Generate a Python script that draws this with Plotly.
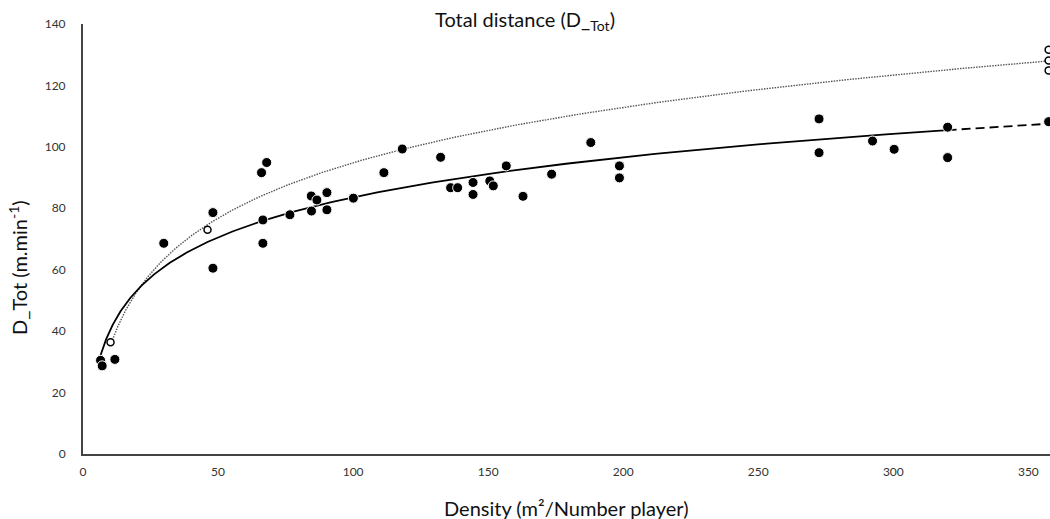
import numpy as np
import plotly.graph_objects as go

# ---- data ----
filled_x = [6.5, 7.1, 11.8, 29.9, 48.1, 48.1, 66.1, 68.0, 66.6, 66.6, 76.6,
            84.5, 86.6, 90.3, 84.6, 90.3, 100.1, 111.4, 118.2, 132.4, 136.1,
            138.7, 144.4, 144.4, 150.6, 151.9, 156.7, 162.9, 173.5, 188.0,
            198.6, 198.6, 272.5, 272.5, 292.3, 300.3, 320.1, 320.1]
filled_y = [30.5, 28.7, 30.8, 68.6, 78.6, 60.5, 91.6, 94.9, 76.2, 68.6, 77.9,
            84.0, 82.7, 85.1, 79.1, 79.5, 83.3, 91.6, 99.3, 96.6, 86.7,
            86.7, 88.4, 84.5, 88.9, 87.3, 93.8, 83.9, 91.1, 101.4,
            93.8, 89.9, 109.1, 98.1, 101.9, 99.2, 106.4, 96.5]

edge_filled_x = [357.5]
edge_filled_y = [108.2]

open_x = [10.2, 46.1, 357.5, 357.5, 357.5]
open_y = [36.4, 73.0, 131.6, 128.1, 124.9]

x_ticks = [0, 50, 100, 150, 200, 250, 300, 350]
y_ticks = [0, 20, 40, 60, 80, 100, 120, 140]

FONT = "Lato, 'Open Sans', sans-serif"

# ---- logarithmic trendlines (least squares on ln x) ----
def log_fit(xs, ys):
    a, b = np.polyfit(np.log(xs), ys, 1)
    return a, b

a1, b1 = log_fit(filled_x, filled_y)
a2, b2 = log_fit(open_x, open_y)

xs_solid = np.geomspace(min(filled_x), max(filled_x), 300)
xs_dash = np.linspace(max(filled_x), max(edge_filled_x), 20)
xs_dot = np.geomspace(min(open_x), max(open_x), 300)

fig = go.Figure()

fig.add_trace(go.Scatter(x=xs_dot, y=a2 * np.log(xs_dot) + b2, mode="lines",
                         line=dict(color="#555555", width=1.4, dash="1.5px,1.2px"),
                         hoverinfo="skip", cliponaxis=False))
fig.add_trace(go.Scatter(x=xs_solid, y=a1 * np.log(xs_solid) + b1, mode="lines",
                         line=dict(color="black", width=1.8),
                         hoverinfo="skip", cliponaxis=False))
fig.add_trace(go.Scatter(x=xs_dash, y=a1 * np.log(xs_dash) + b1, mode="lines",
                         line=dict(color="black", width=1.8, dash="9px,5px"),
                         hoverinfo="skip", cliponaxis=False))

fig.add_trace(go.Scatter(x=open_x, y=open_y, mode="markers",
                         marker=dict(symbol="circle", size=7, color="white",
                                     line=dict(color="black", width=1.5)),
                         cliponaxis=False))
fig.add_trace(go.Scatter(x=filled_x + edge_filled_x, y=filled_y + edge_filled_y,
                         mode="markers",
                         marker=dict(symbol="circle", size=10, color="black",
                                     line=dict(color="white", width=1)),
                         cliponaxis=False))

PLOT_L, PLOT_T, PLOT_B = 83, 24, 65
PLOT_W, PLOT_H = 1050 - PLOT_L, 519 - PLOT_T - PLOT_B

fig.update_layout(
    width=1050, height=519,
    margin=dict(l=PLOT_L, r=0, t=PLOT_T, b=PLOT_B),
    paper_bgcolor="white", plot_bgcolor="white",
    showlegend=False,
    font=dict(family=FONT, color="#222222"),
    title=dict(text="Total distance (D_<sub>Tot</sub>)", x=0.5, xref="container",
               xanchor="center", y=1 - 20 / 519, yref="container", yanchor="middle",
               font=dict(family=FONT, size=20, color="#111111")),
    xaxis=dict(range=[0, 358], tickvals=x_ticks, ticktext=[str(v) for v in x_ticks],
               showgrid=False, zeroline=False, showline=True, linecolor="#444444",
               linewidth=2, ticks="", ticklabelstandoff=6,
               tickfont=dict(family=FONT, size=12, color="#333333")),
    yaxis=dict(range=[0, 140], tickvals=y_ticks, ticktext=[str(v) for v in y_ticks],
               showgrid=False, zeroline=False, showline=True, linecolor="#444444",
               linewidth=2, ticks="", ticklabelstandoff=13,
               tickfont=dict(family=FONT, size=12, color="#333333")),
    annotations=[
        dict(text="Density (m²/Number player)", xref="paper", yref="paper",
             x=0.5, y=-(508 - (PLOT_T + PLOT_H)) / PLOT_H, xanchor="center",
             yanchor="middle", showarrow=False,
             font=dict(family=FONT, size=20, color="#111111")),
        dict(text="D_Tot (m.min<sup>-1</sup>)", xref="paper", yref="paper",
             x=-(PLOT_L - 18) / PLOT_W, y=(PLOT_T + PLOT_H - 268) / PLOT_H,
             xanchor="center", yanchor="middle", textangle=-90, showarrow=False,
             font=dict(family=FONT, size=20, color="#111111")),
    ],
)

fig.write_html("out.html", config={"displayModeBar": False},
               post_script="document.body.style.margin='0';document.body.style.overflow='hidden';")
